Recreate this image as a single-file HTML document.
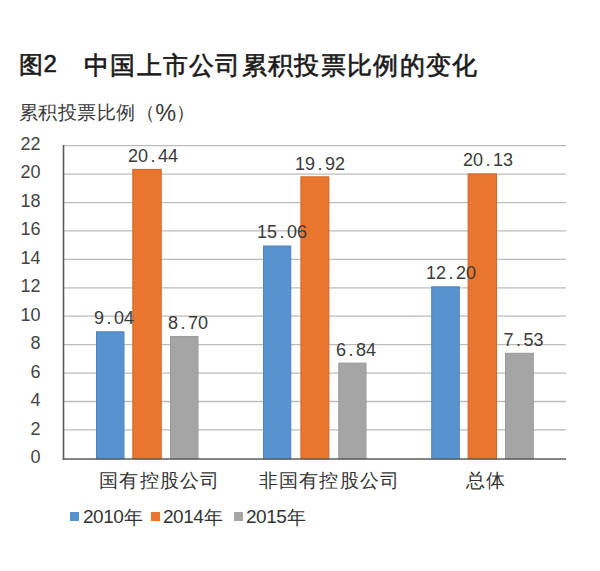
<!DOCTYPE html>
<html><head><meta charset="utf-8">
<style>
html,body{margin:0;padding:0;background:#fff;}
body{width:600px;height:571px;position:relative;overflow:hidden;font-family:"Liberation Sans",sans-serif;}
.t{position:absolute;white-space:nowrap;line-height:1;}
#title{left:19px;top:52.5px;font-size:24px;color:#1a1a1a;-webkit-text-stroke:0.6px #1a1a1a;}
#title2{left:84px;top:54px;font-size:24.5px;letter-spacing:1.3px;color:#1a1a1a;-webkit-text-stroke:0.6px #1a1a1a;}
#ylab{left:18.5px;top:100px;font-size:18.6px;letter-spacing:0.6px;color:#3a3a3a;}
#ylab b{font-weight:normal;font-size:23.5px;margin-left:-0.5px;letter-spacing:0.2px;position:relative;top:1.5px;}
.yl{font-size:18px;color:#444;text-align:right;width:40px;}
.dl{font-size:18px;color:#3a3a3a;}
.dl i{font-style:normal;display:inline-block;width:10px;text-align:center;}
.cat{font-size:19px;letter-spacing:1.3px;color:#333;}
.leg{font-size:19px;letter-spacing:-0.5px;color:#333;}
.leg span{font-size:19px;margin-left:1px;letter-spacing:0;position:relative;top:0.5px;}
.sq{position:absolute;width:9px;height:9px;}
</style></head><body>
<div class="t" id="title">图<span style="font-size:24px;position:relative;top:-1px;margin-left:0.5px">2</span></div>
<div class="t" id="title2">中国上市公司累积投票比例的变化</div>
<div class="t" id="ylab">累积投票比例（<b>%</b>）</div>

<svg width="600" height="571" style="position:absolute;left:0;top:0">
  <g stroke="#bcbcbc" stroke-width="1.3">
    <line x1="64" x2="566" y1="145.70" y2="145.70"/>
    <line x1="64" x2="566" y1="174.12" y2="174.12"/>
    <line x1="64" x2="566" y1="202.54" y2="202.54"/>
    <line x1="64" x2="566" y1="230.96" y2="230.96"/>
    <line x1="64" x2="566" y1="259.38" y2="259.38"/>
    <line x1="64" x2="566" y1="287.80" y2="287.80"/>
    <line x1="64" x2="566" y1="316.22" y2="316.22"/>
    <line x1="64" x2="566" y1="344.64" y2="344.64"/>
    <line x1="64" x2="566" y1="373.06" y2="373.06"/>
    <line x1="64" x2="566" y1="401.48" y2="401.48"/>
    <line x1="64" x2="566" y1="429.90" y2="429.90"/>
  </g>
  <g>
    <rect x="96.5" y="331.8" width="27.5" height="127.2" fill="#5893cf" stroke="#4f84bd" stroke-width="1"/>
    <rect x="132.8" y="169.4" width="28.4" height="289.6" fill="#e9752f" stroke="#cf662a" stroke-width="1"/>
    <rect x="170.5" y="336.6" width="27.5" height="122.4" fill="#a5a5a5" stroke="#989898" stroke-width="1"/>
    <rect x="263.5" y="246.0" width="27.3" height="213.0" fill="#5893cf" stroke="#4f84bd" stroke-width="1"/>
    <rect x="300.9" y="176.8" width="28.0" height="282.2" fill="#e9752f" stroke="#cf662a" stroke-width="1"/>
    <rect x="338.8" y="363.1" width="27.2" height="95.9" fill="#a5a5a5" stroke="#989898" stroke-width="1"/>
    <rect x="431.7" y="286.8" width="27.6" height="172.2" fill="#5893cf" stroke="#4f84bd" stroke-width="1"/>
    <rect x="468.1" y="173.9" width="28.4" height="285.1" fill="#e9752f" stroke="#cf662a" stroke-width="1"/>
    <rect x="505.5" y="353.3" width="27.8" height="105.7" fill="#a5a5a5" stroke="#989898" stroke-width="1"/>
  </g>
  <line x1="63.5" x2="63.5" y1="145" y2="459.8" stroke="#5c5c5c" stroke-width="1.6"/>
  <line x1="62.6" x2="566" y1="459" y2="459" stroke="#5c5c5c" stroke-width="1.6"/>
</svg>

<div class="t yl" style="left:0.5px;top:134.5px">22</div>
<div class="t yl" style="left:0.5px;top:162.5px">20</div>
<div class="t yl" style="left:0.5px;top:191.5px">18</div>
<div class="t yl" style="left:0.5px;top:219.5px">16</div>
<div class="t yl" style="left:0.5px;top:248.5px">14</div>
<div class="t yl" style="left:0.5px;top:276.5px">12</div>
<div class="t yl" style="left:0.5px;top:305.5px">10</div>
<div class="t yl" style="left:0.5px;top:333.5px">8</div>
<div class="t yl" style="left:0.5px;top:362.5px">6</div>
<div class="t yl" style="left:0.5px;top:390.5px">4</div>
<div class="t yl" style="left:0.5px;top:419.5px">2</div>
<div class="t yl" style="left:0.5px;top:447.5px">0</div>

<div class="t dl" style="left:94px;top:309.0px">9<i>.</i>04</div>
<div class="t dl" style="left:128px;top:147.0px">20<i>.</i>44</div>
<div class="t dl" style="left:168px;top:313.5px">8<i>.</i>70</div>
<div class="t dl" style="left:257px;top:223.0px">15<i>.</i>06</div>
<div class="t dl" style="left:295px;top:155.0px">19<i>.</i>92</div>
<div class="t dl" style="left:336px;top:340.5px">6<i>.</i>84</div>
<div class="t dl" style="left:426px;top:264.0px">12<i>.</i>20</div>
<div class="t dl" style="left:463px;top:151.0px">20<i>.</i>13</div>
<div class="t dl" style="left:503.5px;top:330.5px">7<i>.</i>53</div>

<div class="t cat" style="left:99px;top:471px">国有控股公司</div>
<div class="t cat" style="left:258.5px;top:471px">非国有控股公司</div>
<div class="t cat" style="left:465.5px;top:471px">总体</div>

<div class="sq" style="left:70px;top:512px;background:#5893cf"></div>
<div class="t leg" style="left:83px;top:507px">2010<span>年</span></div>
<div class="sq" style="left:151px;top:512px;background:#e9752f"></div>
<div class="t leg" style="left:163px;top:507px">2014<span>年</span></div>
<div class="sq" style="left:233.5px;top:512px;background:#a5a5a5"></div>
<div class="t leg" style="left:246px;top:507px">2015<span>年</span></div>
</body></html>
